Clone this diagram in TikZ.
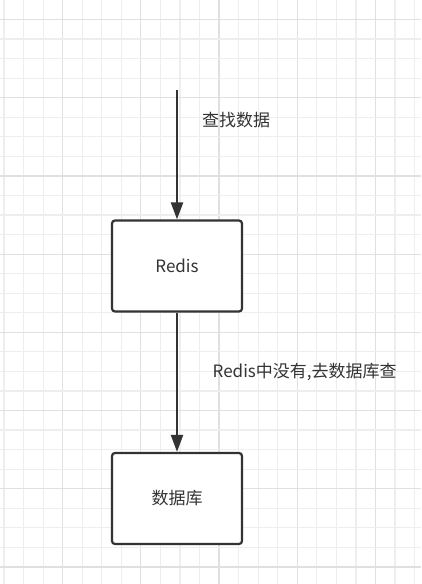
\documentclass[tikz,border=0pt]{standalone}
\usepackage{fontspec}
\setmainfont{Noto Sans CJK SC}
\usetikzlibrary{arrows.meta}
\definecolor{ink}{HTML}{333333}
\definecolor{gridminor}{HTML}{EEEEEE}
\definecolor{gridmajor}{HTML}{E0E0E0}
\begin{document}
\begin{tikzpicture}[x=1pt, y=-1pt,
    every node/.style={font=\fontsize{17}{20}\selectfont, text=ink},
    box/.style={draw=ink, line width=2.2pt, rounded corners=3pt, fill=white, minimum width=130pt, minimum height=91pt, inner sep=0pt},
    flow/.style={draw=ink, line width=2.2pt, -{Triangle[length=17pt, width=12pt]}},
    note/.style={inner sep=0pt, anchor=west}]
      \def\gridstep{19.55}
      \def\gridx{4}
      \def\gridy{19.5}

      \useasboundingbox (0,0) rectangle (421,584);
      \fill[white] (0,0) rectangle (421,584);

      %grid
      \foreach \k in {0,...,21} {
        \pgfmathsetmacro\gx{\gridx+\k*\gridstep}
        \pgfmathtruncatemacro\km{mod(\k,4)}
        \ifnum\km=3 \draw[gridmajor, line width=1.2pt] (\gx,0) -- (\gx,584);
        \else \draw[gridminor, line width=1.2pt] (\gx,0) -- (\gx,584); \fi
      }
      \foreach \k in {0,...,29} {
        \pgfmathsetmacro\gy{\gridy+\k*\gridstep}
        \pgfmathtruncatemacro\km{mod(\k,4)}
        \ifnum\km=0 \draw[gridmajor, line width=1.2pt] (0,\gy) -- (421,\gy);
        \else \draw[gridminor, line width=1.2pt] (0,\gy) -- (421,\gy); \fi
      }

      %boxes
      \node[box, name=redis] at (177,266) {Redis};
      \node[box, name=db   ] at (177,498.5) {数据库};
      \coordinate (query) at (177,90);

      %arrows
      \draw[flow] (query) -- (redis.north);
      \draw[flow] (redis.south) -- (db.north);

      %labels
      \node[note, name=findlabel] at (202,120.5) {查找数据};
      \node[note, name=misslabel] at (212.5,372) {Redis中没有,去数据库查};
\end{tikzpicture}
\end{document}
